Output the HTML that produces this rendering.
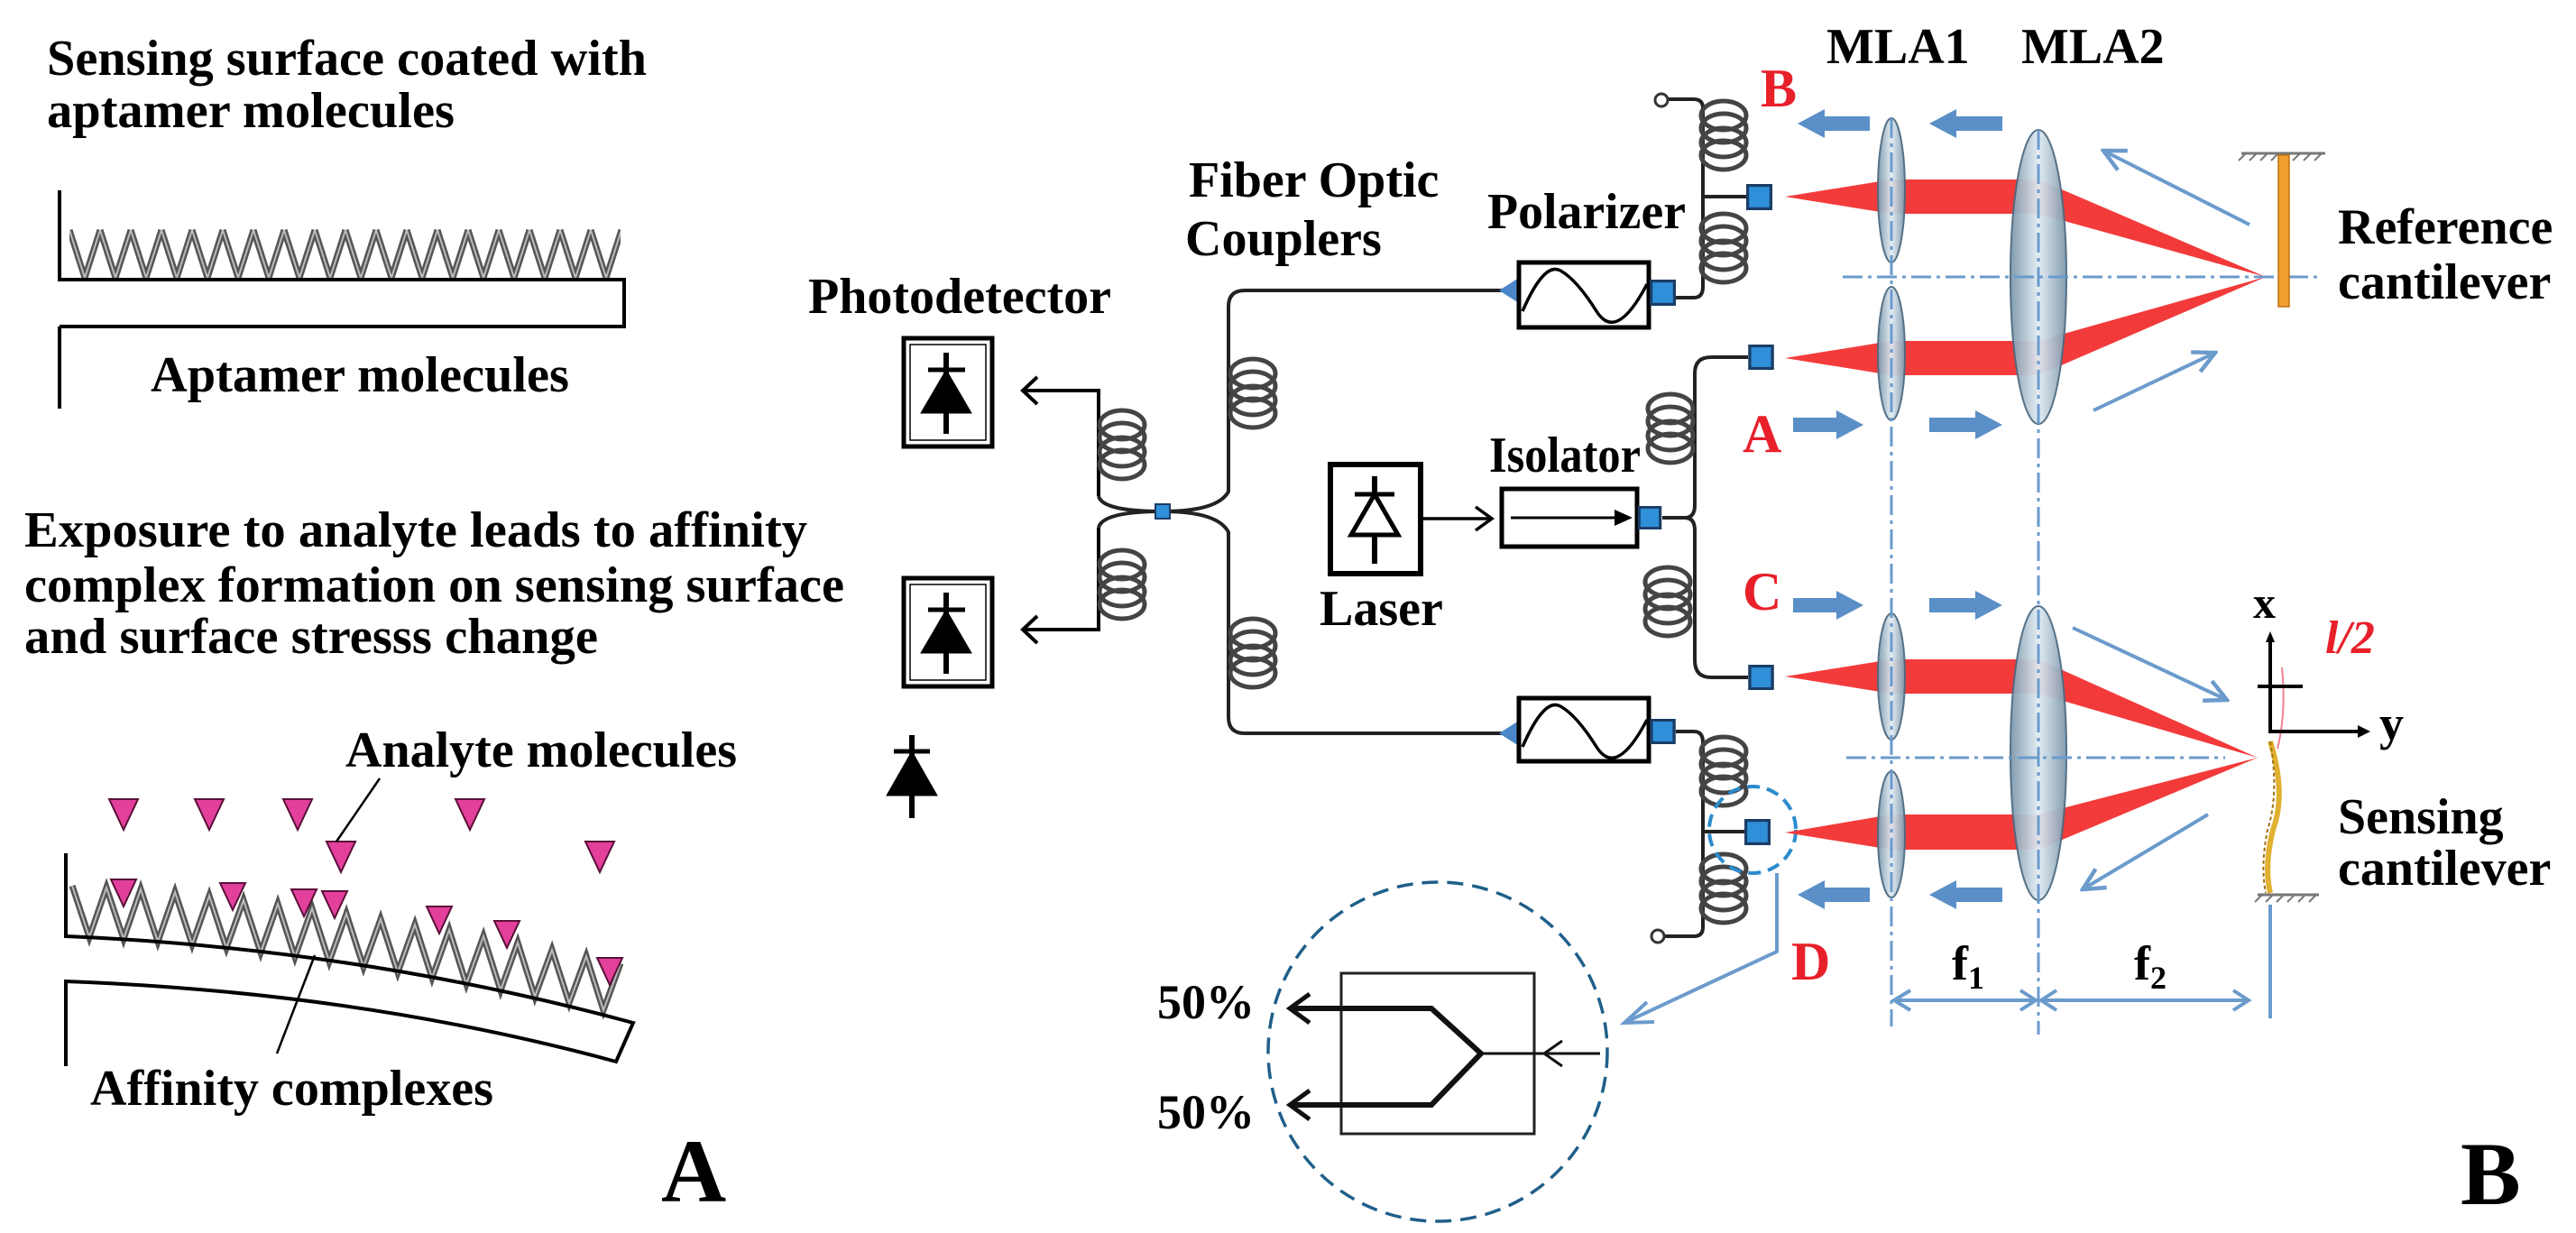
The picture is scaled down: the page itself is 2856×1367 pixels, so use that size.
<!DOCTYPE html>
<html><head><meta charset="utf-8"><style>
html,body{margin:0;padding:0;background:#fff}
svg{display:block}
text{font-family:"Liberation Serif",serif;font-weight:bold;fill:#000}
.r{fill:#e8202a}
</style></head><body>
<svg width="2856" height="1367" viewBox="0 0 2856 1367" xmlns="http://www.w3.org/2000/svg">
<defs>
<pattern id="zz" x="77" y="253" width="34" height="57" patternUnits="userSpaceOnUse">
<path d="M0,2 L17,55 L34,2" fill="none" stroke="#555" stroke-width="7"/>
<path d="M0,2 L17,55 L34,2" fill="none" stroke="#bbb" stroke-width="2"/>
</pattern>
<g id="coil" fill="none" stroke="#444" stroke-width="5">
<ellipse cx="0" cy="-22" rx="25" ry="16"/><ellipse cx="0" cy="-8" rx="25" ry="16"/>
<ellipse cx="0" cy="8" rx="25" ry="16"/><ellipse cx="0" cy="22" rx="25" ry="16"/>
</g>
<linearGradient id="lens" x1="0" x2="1" y1="0" y2="0">
<stop offset="0" stop-color="#7d98ad"/><stop offset="0.5" stop-color="#e2ecf3"/><stop offset="1" stop-color="#7d98ad"/>
</linearGradient>
<marker id="bh" viewBox="0 0 20 20" refX="18" refY="10" markerWidth="30" markerHeight="30" orient="auto" markerUnits="userSpaceOnUse">
<path d="M2,2 L18,10 L2,18" fill="none" stroke="#6b9bcc" stroke-width="3"/>
</marker>
<symbol id="sq" viewBox="0 0 10 10"><rect x="0.5" y="0.5" width="9" height="9" fill="#2f8fd8" stroke="#1b3d66" stroke-width="1.2"/></symbol>
</defs>

<!-- LEFT PANEL -->
<text x="52" y="83" font-size="56" textLength="665" lengthAdjust="spacingAndGlyphs">Sensing surface coated with</text>
<text x="52" y="141" font-size="56" textLength="452" lengthAdjust="spacingAndGlyphs">aptamer molecules</text>
<rect x="77" y="253" width="611" height="57" fill="url(#zz)"/>
<path d="M66,211 L66,310 L692,310 L692,362 L66,362 M66,362 L66,453" fill="none" stroke="#000" stroke-width="4"/>
<text x="167" y="434" font-size="56" textLength="464" lengthAdjust="spacingAndGlyphs">Aptamer molecules</text>

<text x="27" y="606" font-size="56" textLength="868" lengthAdjust="spacingAndGlyphs">Exposure to analyte leads to affinity</text>
<text x="27" y="667" font-size="56" textLength="909" lengthAdjust="spacingAndGlyphs">complex formation on sensing surface</text>
<text x="27" y="724" font-size="56" textLength="636" lengthAdjust="spacingAndGlyphs">and surface stresss change</text>

<polyline points="80,982 99,1039 118,984 137,1041 156,986 175,1044 194,989 213,1047 232,993 251,1051 270,998 289,1056 308,1002 327,1061 346,1007 365,1066 384,1013 403,1072 422,1019 441,1078 460,1025 479,1084 498,1031 517,1091 536,1038 555,1098 574,1045 593,1105 612,1053 631,1112 650,1060 669,1120 688,1068" fill="none" stroke="#555" stroke-width="7"/>
<polyline points="80,982 99,1039 118,984 137,1041 156,986 175,1044 194,989 213,1047 232,993 251,1051 270,998 289,1056 308,1002 327,1061 346,1007 365,1066 384,1013 403,1072 422,1019 441,1078 460,1025 479,1084 498,1031 517,1091 536,1038 555,1098 574,1045 593,1105 612,1053 631,1112 650,1060 669,1120 688,1068" fill="none" stroke="#bbb" stroke-width="2"/>
<path d="M73,946 L73,1038 Q400,1052 702,1134 L683,1177 Q400,1100 73,1088 L73,1182" fill="none" stroke="#000" stroke-width="4"/>
<g fill="#e3409c" stroke="#5a1038" stroke-width="2">
<path d="M121,886 h32 l-16,34z"/><path d="M216,886 h32 l-16,34z"/><path d="M314,886 h32 l-16,34z"/><path d="M505,886 h32 l-16,34z"/>
<path d="M362,933 h32 l-16,34z"/><path d="M649,933 h32 l-16,34z"/>
<path d="M123,975 h28 l-14,30z"/><path d="M244,979 h28 l-14,30z"/><path d="M323,986 h28 l-14,30z"/><path d="M357,988 h28 l-14,30z"/>
<path d="M473,1005 h28 l-14,30z"/><path d="M548,1021 h28 l-14,30z"/><path d="M662,1062 h28 l-14,30z"/>
</g>
<text x="383" y="850" font-size="56" textLength="434" lengthAdjust="spacingAndGlyphs">Analyte molecules</text>
<line x1="421" y1="863" x2="373" y2="933" stroke="#000" stroke-width="2.5"/>
<text x="100" y="1225" font-size="56" textLength="447" lengthAdjust="spacingAndGlyphs">Affinity complexes</text>
<line x1="349" y1="1059" x2="307" y2="1168" stroke="#000" stroke-width="2.5"/>
<text x="733" y="1332" font-size="100">A</text>

<!-- PHOTODETECTORS -->
<text x="896" y="347" font-size="56" textLength="336" lengthAdjust="spacingAndGlyphs">Photodetector</text>
<g fill="none" stroke="#000" stroke-width="5">
<rect x="1002" y="375" width="98" height="120"/><rect x="1009" y="382" width="84" height="106" stroke-width="1.5"/>
<rect x="1002" y="641" width="98" height="120"/><rect x="1009" y="648" width="84" height="106" stroke-width="1.5"/>
</g>
<g fill="#000" stroke="#000">
<path d="M1029,410 h41" stroke-width="5"/><path d="M1049,391 v90" stroke-width="6"/><path d="M1049,410 L1077,458 L1021,458z"/>
<path d="M1029,676 h41" stroke-width="5"/><path d="M1049,657 v90" stroke-width="6"/><path d="M1049,676 L1077,724 L1021,724z"/>
<path d="M991,833 h40" stroke-width="5"/><path d="M1011,815 v92" stroke-width="6"/><path d="M1011,833 L1039,882 L983,882z"/>
</g>
<g fill="none" stroke="#000" stroke-width="4">
<path d="M1134,433 H1218 V550" /><path d="M1134,698 H1218 V585"/>
<path d="M1150,418 L1134,433 L1150,448"/><path d="M1150,683 L1134,698 L1150,713"/>
</g>
<use href="#coil" x="1244" y="493"/><use href="#coil" x="1244" y="648"/>
<g fill="none" stroke="#222" stroke-width="4">
<path d="M1218,550 Q1222,567 1289,567 Q1350,567 1362,545 V340 Q1362,322 1380,322 H1665"/>
<path d="M1218,585 Q1222,567 1289,567 Q1350,567 1362,590 V795 Q1362,813 1380,813 H1665"/>
</g>
<use href="#coil" x="1389" y="436"/><use href="#coil" x="1389" y="724"/>
<use href="#sq" x="1280" y="558" width="18" height="18"/>
<text x="1318" y="218" font-size="56">Fiber Optic</text>
<text x="1314" y="283" font-size="56">Couplers</text>

<!-- POLARIZERS -->
<text x="1649" y="253" font-size="56" textLength="220" lengthAdjust="spacingAndGlyphs">Polarizer</text>
<g>
<path d="M1684,308 L1662,322 L1684,336z" fill="#4a86c8"/>
<rect x="1684" y="291" width="144" height="72" fill="#fff" stroke="#000" stroke-width="5"/>
<path d="M1688,345 Q1712,290 1730,300 T1770,345 T1826,315" fill="none" stroke="#000" stroke-width="3.5"/>
<path d="M1684,799 L1662,813 L1684,827z" fill="#4a86c8"/>
<rect x="1684" y="774" width="144" height="70" fill="#fff" stroke="#000" stroke-width="5"/>
<path d="M1688,828 Q1712,773 1730,783 T1770,828 T1826,798" fill="none" stroke="#000" stroke-width="3.5"/>
</g>
<g fill="none" stroke="#222" stroke-width="4">
<path d="M1858,330 H1878 Q1888,330 1888,318 V120 Q1888,110 1878,110 H1848"/>
<path d="M1888,218 H1936"/>
<path d="M1858,811 H1878 Q1888,811 1888,823 V1028 Q1888,1038 1878,1038 H1846"/>
<path d="M1888,922 H1934"/>
</g>
<circle cx="1842" cy="111" r="7" fill="#fff" stroke="#333" stroke-width="3"/>
<circle cx="1838" cy="1038" r="7" fill="#fff" stroke="#333" stroke-width="3"/>
<use href="#coil" x="1911" y="150"/><use href="#coil" x="1911" y="275"/>
<use href="#coil" x="1911" y="855"/><use href="#coil" x="1911" y="985"/>
<use href="#sq" x="1829" y="310" width="29" height="29"/>
<use href="#sq" x="1936" y="204" width="29" height="29"/>
<use href="#sq" x="1829" y="797" width="29" height="28"/>
<use href="#sq" x="1934" y="908" width="29" height="29"/>
<circle cx="1943" cy="920" r="48" fill="none" stroke="#2b8ccc" stroke-width="4" stroke-dasharray="14,8"/>

<!-- LASER / ISOLATOR -->
<rect x="1475" y="515" width="100" height="121" fill="none" stroke="#000" stroke-width="6"/>
<g stroke="#000" fill="none">
<path d="M1502,548 h44" stroke-width="5"/><path d="M1524,528 v20 M1524,593 v32" stroke-width="6"/>
<path d="M1524,548 L1550,593 L1498,593z" stroke-width="5" fill="#fff"/>
</g>
<text x="1463" y="693" font-size="56">Laser</text>
<path d="M1578,575 H1654 M1636,562 L1654,575 L1636,588" fill="none" stroke="#000" stroke-width="3.5"/>
<text x="1651" y="523" font-size="56" textLength="168" lengthAdjust="spacingAndGlyphs">Isolator</text>
<rect x="1665" y="542" width="150" height="64" fill="none" stroke="#000" stroke-width="5"/>
<path d="M1675,574 H1800" stroke="#000" stroke-width="3"/><path d="M1810,574 L1790,565 L1790,583z" fill="#000"/>
<g fill="none" stroke="#222" stroke-width="4">
<path d="M1843,574 H1868 Q1879,574 1879,560 V414 Q1879,396 1897,396 H1938"/>
<path d="M1843,574 H1868 Q1879,574 1879,588 V732 Q1879,751 1897,751 H1938"/>
</g>
<use href="#coil" x="1852" y="475"/><use href="#coil" x="1849" y="667"/>
<use href="#sq" x="1815" y="561" width="28" height="26"/>
<use href="#sq" x="1938" y="382" width="29" height="28"/>
<use href="#sq" x="1938" y="737" width="29" height="28"/>

<!-- BEAMS -->
<g fill="#f23030" opacity="0.95">
<polygon points="1979,218 2097,199 2260,199 2512,307 2260,237 2097,237"/>
<polygon points="1979,397 2097,378 2260,378 2512,307 2260,416 2097,416"/>
<polygon points="1979,750 2097,731 2260,731 2503,840 2260,769 2097,769"/>
<polygon points="1979,923 2097,903 2260,903 2503,840 2260,942 2097,942"/>
</g>
<g fill="url(#lens)" stroke="#4d6a80" stroke-width="2" opacity="0.95">
<ellipse cx="2097" cy="211" rx="15" ry="80"/><ellipse cx="2097" cy="392" rx="15" ry="74"/>
<ellipse cx="2097" cy="750" rx="15" ry="70"/><ellipse cx="2097" cy="925" rx="15" ry="70"/>
<ellipse cx="2260" cy="307" rx="31" ry="163"/><ellipse cx="2260" cy="835" rx="31" ry="163"/>
</g>
<g stroke="#6b9bcc" stroke-width="3" stroke-dasharray="22,6,4,6" fill="none">
<path d="M2043,307 H2574"/><path d="M2047,840 H2467"/>
<path d="M2097,131 V1138"/><path d="M2260,144 V1147"/>
</g>
<text x="2025" y="70" font-size="56">MLA1</text>
<text x="2241" y="70" font-size="56">MLA2</text>

<g fill="#5b8fc7">
<polygon points="1993,137 2023,121 2023,129 2073,129 2073,145 2023,145 2023,153"/>
<polygon points="2139,137 2169,121 2169,129 2220,129 2220,145 2169,145 2169,153"/>
<polygon points="1993,992 2023,976 2023,984 2073,984 2073,1000 2023,1000 2023,1008"/>
<polygon points="2139,992 2169,976 2169,984 2220,984 2220,1000 2169,1000 2169,1008"/>
<polygon points="2066,471 2036,455 2036,463 1988,463 1988,479 2036,479 2036,487"/>
<polygon points="2220,471 2190,455 2190,463 2139,463 2139,479 2190,479 2190,487"/>
<polygon points="2066,671 2036,655 2036,663 1988,663 1988,679 2036,679 2036,687"/>
<polygon points="2220,671 2190,655 2190,663 2139,663 2139,679 2190,679 2190,687"/>
</g>
<g stroke="#6b9bcc" stroke-width="4" fill="none" marker-end="url(#bh)">
<line x1="2494" y1="249" x2="2332" y2="167"/>
<line x1="2321" y1="455" x2="2456" y2="391"/>
<line x1="2298" y1="696" x2="2469" y2="776"/>
<line x1="2448" y1="903" x2="2309" y2="986"/>
</g>
<text x="1952" y="118" font-size="60" class="r">B</text>
<text x="1932" y="501" font-size="60" class="r">A</text>
<text x="1932" y="676" font-size="60" class="r">C</text>
<text x="1986" y="1086" font-size="60" class="r">D</text>

<path d="M2485,170 H2578" stroke="#777" stroke-width="3"/>
<path d="M2490,170 l-8,8 M2502,170 l-8,8 M2514,170 l-8,8 M2526,170 l-8,8 M2538,170 l-8,8 M2550,170 l-8,8 M2562,170 l-8,8 M2574,170 l-8,8" stroke="#777" stroke-width="2"/>
<rect x="2526" y="172" width="12" height="168" fill="#f0a030" stroke="#c07010" stroke-width="1.5"/>
<text x="2592" y="270" font-size="56">Reference</text>
<text x="2592" y="331" font-size="56">cantilever</text>

<path d="M2517,822 Q2535,880 2520,920 Q2510,960 2517,990" fill="none" stroke="#e0b030" stroke-width="6"/>
<path d="M2517,822 Q2527,880 2514,920 Q2506,960 2512,990" fill="none" stroke="#a07010" stroke-width="2" stroke-dasharray="4,3"/>
<path d="M2530,740 Q2535,790 2525,830" fill="none" stroke="#f08090" stroke-width="2"/>
<path d="M2503,992 H2571" stroke="#777" stroke-width="3"/>
<path d="M2508,992 l-8,8 M2520,992 l-8,8 M2532,992 l-8,8 M2544,992 l-8,8 M2556,992 l-8,8 M2568,992 l-8,8" stroke="#777" stroke-width="2"/>
<path d="M2517,706 V811 H2620" fill="none" stroke="#000" stroke-width="4"/>
<path d="M2628,811 L2614,804 L2614,818z" fill="#000"/>
<path d="M2517,700 L2512,712 L2522,712z" fill="#000"/>
<path d="M2503,761 H2553" stroke="#000" stroke-width="4"/>
<text x="2498" y="685" font-size="50">x</text>
<text x="2638" y="820" font-size="54">y</text>
<text x="2578" y="724" font-size="52" class="r" font-style="italic">l/2</text>
<text x="2592" y="924" font-size="56">Sensing</text>
<text x="2592" y="981" font-size="56">cantilever</text>
<path d="M2517,1003 V1129" stroke="#6b9bcc" stroke-width="4"/>

<g stroke="#6b9bcc" stroke-width="4" fill="none">
<path d="M2100,1109 H2257"/><path d="M2263,1109 H2492"/>
<path d="M2118,1098 L2100,1109 L2118,1120 M2240,1098 L2257,1109 L2240,1120 M2280,1098 L2263,1109 L2280,1120 M2476,1098 L2493,1109 L2476,1120"/>
</g>
<text x="2164" y="1086" font-size="54">f<tspan font-size="36" dy="10">1</tspan></text>
<text x="2366" y="1086" font-size="54">f<tspan font-size="36" dy="10">2</tspan></text>

<path d="M1970,968 V1055 L1803,1133" fill="none" stroke="#6b9bcc" stroke-width="4"/>
<path d="M1826,1111 L1801,1134 L1834,1133" fill="none" stroke="#6b9bcc" stroke-width="4"/>
<circle cx="1594" cy="1166" r="188" fill="none" stroke="#1f5f8a" stroke-width="3.5" stroke-dasharray="18,10"/>
<rect x="1487" y="1079" width="214" height="178" fill="none" stroke="#222" stroke-width="3"/>
<g fill="none" stroke="#111">
<path d="M1430,1118 H1587 L1642,1168 L1587,1225 H1430" stroke-width="6"/>
<path d="M1452,1102 L1430,1118 L1452,1134 M1452,1209 L1430,1225 L1452,1241" stroke-width="5"/>
<path d="M1642,1168 H1774" stroke-width="3"/>
<path d="M1732,1154 L1712,1168 L1732,1182" stroke-width="3"/>
</g>
<text x="1283" y="1129" font-size="54">50%</text>
<text x="1283" y="1251" font-size="54">50%</text>

<text x="2728" y="1335" font-size="100">B</text>
</svg>
</body></html>
